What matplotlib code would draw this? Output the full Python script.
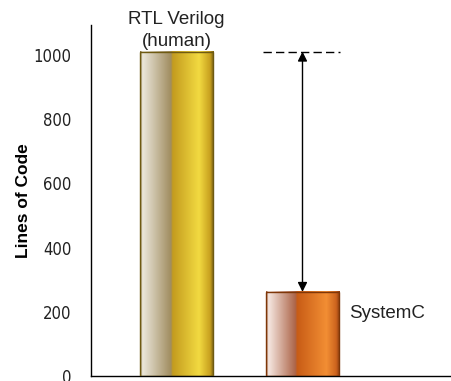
# bar chart: lines of code, RTL Verilog vs SystemC
import matplotlib
matplotlib.use('Agg')
import matplotlib.pyplot as plt
import numpy as np

# data
categories = ['RTL Verilog\n(human)', 'SystemC']
loc_values = [1010, 262]
y_ticks = [0, 200, 400, 600, 800, 1000]

# colour stops across each bar (left -> right), 0..1 position, rgb 0..255
gold_stops = [(0.00, (120, 100, 40)), (0.03, (236, 232, 220)), (0.42, (160, 140, 95)),
              (0.44, (195, 155, 30)), (0.80, (242, 218, 65)), (0.95, (200, 160, 30)),
              (1.00, (120, 95, 20))]
orange_stops = [(0.00, (150, 80, 40)), (0.03, (246, 232, 226)), (0.40, (172, 100, 72)),
                (0.42, (200, 92, 22)), (0.82, (242, 142, 52)), (0.95, (205, 100, 30)),
                (1.00, (140, 60, 15))]
bar_stops = [gold_stops, orange_stops]
edge_colors = ['#6e5a12', '#7e3608']


def gradient_img(stops, n=200):
    pos = np.array([s[0] for s in stops])
    cols = np.array([s[1] for s in stops], dtype=float) / 255.0
    xs = np.linspace(0, 1, n)
    rgb = np.stack([np.interp(xs, pos, cols[:, k]) for k in range(3)], axis=-1)
    return rgb[np.newaxis, :, :]


plt.rcParams['font.family'] = ['Liberation Sans', 'DejaVu Sans']

fig = plt.figure(figsize=(4.51, 3.81), dpi=100)
ax = fig.add_axes([0.2018, 0.0131, 0.7982, 0.9213])

xpos = np.arange(len(categories))
width = 0.58
bars = ax.bar(xpos, loc_values, width=width, color='none',
              edgecolor=edge_colors, linewidth=1.0, zorder=3)

for b, stops in zip(bars, bar_stops):
    x0, w, h = b.get_x(), b.get_width(), b.get_height()
    ax.imshow(gradient_img(stops), extent=[x0, x0 + w, 0, h], aspect='auto',
              origin='upper', zorder=2, interpolation='bilinear')

ax.set_xlim(-0.679, 2.179)
ax.set_ylim(0, 1093)

# dashed reference line and double arrow showing the reduction
ax.plot([xpos[1] - 0.31, xpos[1] + 0.30], [loc_values[0], loc_values[0]],
        color='black', linestyle=(0, (6, 3)), linewidth=1, zorder=3)
ax.annotate('', xy=(xpos[1], loc_values[1]), xytext=(xpos[1], loc_values[0]),
            arrowprops=dict(arrowstyle='<|-|>', color='black', lw=1,
                            mutation_scale=14, shrinkA=0, shrinkB=0), zorder=4)

# labels
ax.annotate(categories[0], xy=(xpos[0], loc_values[0]), xytext=(0, 1),
            textcoords='offset points', ha='center', va='bottom',
            fontsize=13.5, color='#222222', linespacing=1.4, annotation_clip=False)
ax.text(xpos[1] + 0.37, 196, categories[1], ha='left', va='center',
        fontsize=13.5, color='#222222')

ax.set_yticks(y_ticks)
ax.set_yticklabels([str(t) for t in y_ticks], fontsize=12, color='#222222',
                   family='DejaVu Sans', fontstretch='condensed')
ax.set_xticks([])
ax.tick_params(axis='y', length=0, pad=14)
ax.set_ylabel('Lines of Code', fontsize=12.5, fontweight='bold', labelpad=2)

for side in ['top', 'right']:
    ax.spines[side].set_visible(False)
ax.spines['left'].set_linewidth(1)
ax.spines['bottom'].set_linewidth(1)

fig.savefig('out.png', dpi=100)
